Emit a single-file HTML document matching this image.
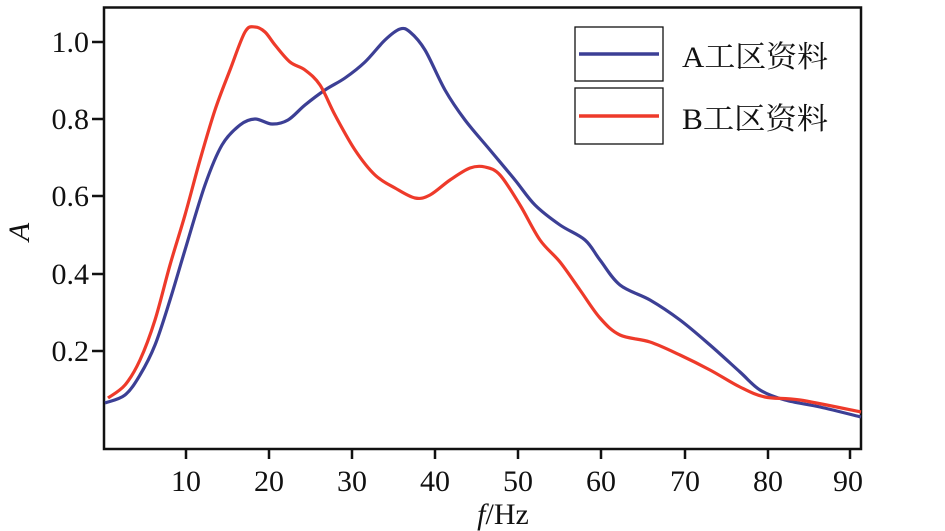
<!DOCTYPE html><html><head><meta charset="utf-8"><style>
body{margin:0;background:#fff}svg{display:block}
text{font-family:"Liberation Serif","Noto Serif CJK SC",serif;fill:#111}
</style></head><body>
<svg id="s" width="945" height="531" xmlns="http://www.w3.org/2000/svg">
<g stroke="#111" stroke-width="2.5" fill="none">
<rect x="104" y="7.5" width="757" height="441.5"/>
<path d="M186 449v10M269 449v10M352 449v10M435 449v10M518 449v10M601 449v10M685 449v10M768 449v10M850 449v10"/>
<path d="M92 42h12M92 119h12M92 196h12M92 274h12M92 351h12"/>
</g>
<g font-size="30" text-anchor="end">
<text x="89" y="52">1.0</text><text x="89" y="129">0.8</text><text x="89" y="206">0.6</text><text x="89" y="284">0.4</text><text x="89" y="361">0.2</text>
</g>
<g font-size="30" text-anchor="middle">
<text x="186" y="491">10</text><text x="269" y="491">20</text><text x="352" y="491">30</text><text x="435" y="491">40</text><text x="518" y="491">50</text><text x="601" y="491">60</text><text x="685" y="491">70</text><text x="768" y="491">80</text><text x="848" y="491">90</text>
</g>
<text x="503" y="524" font-size="30" text-anchor="middle"><tspan font-style="italic">f</tspan>/Hz</text>
<text transform="translate(29,232) rotate(-90)" font-size="30" font-style="italic" text-anchor="middle">A</text>
<g stroke="#111" stroke-width="1.3" fill="none">
<rect x="575" y="27" width="88" height="54"/><rect x="575" y="88" width="88" height="56"/>
</g>
<path d="M579 54h80" stroke="#3c3f95" stroke-width="3.5"/>
<path d="M579 116h80" stroke="#ee3a2a" stroke-width="3.5"/>
<text x="682" y="67" font-size="30" textLength="146" lengthAdjust="spacingAndGlyphs">A工区资料</text>
<text x="682" y="129" font-size="30" textLength="146" lengthAdjust="spacingAndGlyphs">B工区资料</text>
<path id="b" fill="none" stroke="#3c3f95" stroke-width="3.2"/>
<path id="r" fill="none" stroke="#ee3a2a" stroke-width="3.2"/>
</svg>
<script>
function cr(p){let d="M"+p[0][0]+" "+p[0][1];for(let i=0;i<p.length-1;i++){const a=p[i-1]||p[i],b=p[i],c=p[i+1],e=p[i+2]||c;d+=" C"+(b[0]+(c[0]-a[0])/6)+" "+(b[1]+(c[1]-a[1])/6)+" "+(c[0]-(e[0]-b[0])/6)+" "+(c[1]-(e[1]-b[1])/6)+" "+c[0]+" "+c[1];}return d;}
const B=[[105,403],[125,395],[140,375],[155,345],[170,300],[185,250],[205,185],[222,145],[240,125],[255,119],[272,124],[288,120],[305,105],[325,90],[345,78],[365,62],[385,40],[400,29],[410,32],[425,50],[445,90],[465,120],[490,150],[515,180],[535,205],[560,225],[585,240],[600,260],[620,285],[650,300],[680,320],[710,345],[740,372],[760,390],[785,400],[820,407],[861,417]];
const R=[[108,398],[125,385],[140,360],[155,320],[170,265],[185,215],[200,160],[215,110],[230,70],[245,32],[255,27],[265,32],[275,45],[290,62],[305,70],[320,85],[335,115],[355,150],[375,175],[395,188],[415,198],[430,195],[450,180],[470,168],[485,167],[500,175],[520,205],[540,240],[560,262],[580,290],[600,318],[620,335],[650,342],[680,355],[710,370],[740,387],[765,397],[800,400],[861,412]];
document.getElementById("b").setAttribute("d",cr(B));
document.getElementById("r").setAttribute("d",cr(R));
</script>
</body></html>
